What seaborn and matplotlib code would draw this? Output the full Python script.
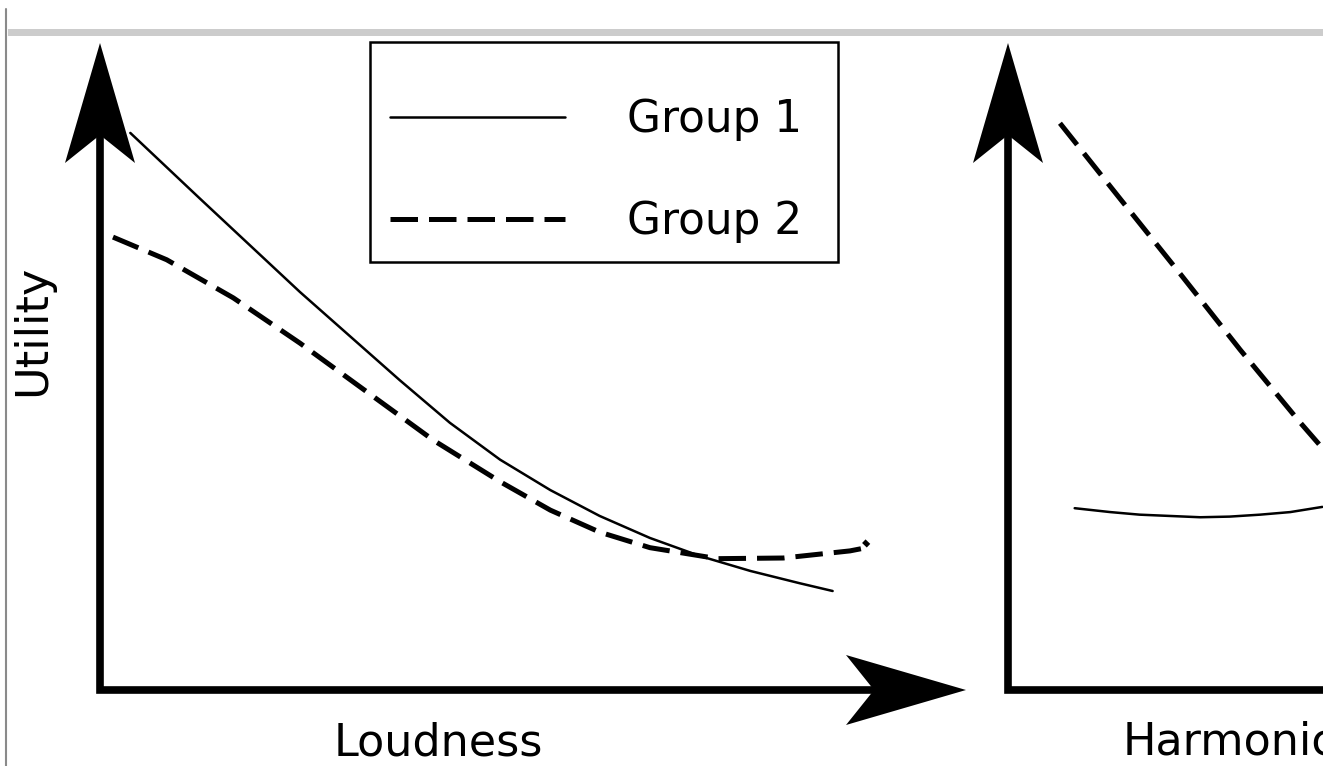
import numpy as np
import matplotlib
matplotlib.use("Agg")
import matplotlib.pyplot as plt
from matplotlib.patches import Polygon, Rectangle
from matplotlib.lines import Line2D
from matplotlib.transforms import IdentityTransform
import seaborn as sns

loud_x_g1 = [3.5, 11.5, 23.1, 34.6, 40.4, 46.2, 52.0, 57.7, 63.5, 69.3, 75.1, 80.8, 84.6]
loud_y_g1 = [86.1, 76.0, 61.5, 47.9, 41.3, 35.6, 30.9, 26.9, 23.5, 20.7, 18.4, 16.5, 15.3]
loud_x_g2 = [1.5, 7.7, 15.4, 23.1, 30.8, 38.5, 46.2, 52.0, 57.7, 63.5, 71.3, 78.9, 86.6, 88.9, 88.2]
loud_y_g2 = [70.0, 66.5, 60.6, 53.6, 46.1, 38.6, 32.2, 27.8, 24.4, 22.0, 20.3, 20.4, 21.5, 22.1, 23.0]

harm_x_g1 = [7.7, 11.8, 15.2, 18.7, 22.2, 25.6, 29.1, 32.6, 36.3]
harm_y_g1 = [28.1, 27.5, 27.1, 26.9, 26.7, 26.8, 27.1, 27.5, 28.3]
harm_x_g2 = [6.0, 12.9, 19.9, 26.8, 33.7, 36.3]
harm_y_g2 = [87.6, 76.0, 64.3, 52.6, 41.4, 37.4]

group_labels = ["Group 1", "Group 2"]
x_labels = ["Loudness", "Harmonicity"]
y_label = "Utility"

sns.set_style("white")
plt.rcParams["font.family"] = ["DejaVu Sans"]
plt.rcParams["text.color"] = "black"
plt.rcParams["axes.labelcolor"] = "black"

W, H = 1323, 766
fig = plt.figure(figsize=(W / 100, H / 100), dpi=100)

# bordure grise (capture d'écran d'origine)
fig.add_artist(Rectangle((8 / W, 1 - 36 / H), 1, 7 / H, color="#cccccc", lw=0))
fig.add_artist(Line2D([6 / W, 6 / W], [0, 1 - 9 / H], color="#8a8a8a", lw=1.5))

ax_w, ax_h = 866, 647
ax1 = fig.add_axes([100 / W, (H - 690) / H, ax_w / W, ax_h / H])
ax2 = fig.add_axes([1008 / W, (H - 690) / H, ax_w / W, ax_h / H])

solid_lw = 1.8
dash_lw = 3.6
dash_style = (0, (5.5, 2.2))


def arrow_head(ax, tip, direction, length=120, width=70, notch=28):
    tx, ty = ax.transAxes.transform(tip)
    dx, dy = direction
    px, py = -dy, dx
    pts = [(tx, ty),
           (tx - dx * length + px * width / 2, ty - dy * length + py * width / 2),
           (tx - dx * (length - notch), ty - dy * (length - notch)),
           (tx - dx * length - px * width / 2, ty - dy * length - py * width / 2)]
    fig.add_artist(Polygon(pts, closed=True, color="black", lw=0,
                           transform=IdentityTransform()))


sns.lineplot(x=loud_x_g1, y=loud_y_g1, ax=ax1, color="black", linewidth=solid_lw,
             label=group_labels[0], sort=False, solid_joinstyle="round")
sns.lineplot(x=loud_x_g2, y=loud_y_g2, ax=ax1, color="black", linewidth=dash_lw,
             linestyle=dash_style, label=group_labels[1], sort=False,
             dash_joinstyle="round")
sns.lineplot(x=harm_x_g1, y=harm_y_g1, ax=ax2, color="black", linewidth=solid_lw,
             legend=False, solid_joinstyle="round")
sns.lineplot(x=harm_x_g2, y=harm_y_g2, ax=ax2, color="black", linewidth=dash_lw,
             linestyle=dash_style, legend=False)

for ax in [ax1, ax2]:
    ax.set_xlim(0, 100)
    ax.set_ylim(0, 100)
    ax.set_facecolor("none")
    ax.set_xticks([])
    ax.set_yticks([])
    sns.despine(ax=ax, left=True, bottom=True)
    # axes avec flèches
    ax.plot([0, 0, 1 - 92 / ax_w], [1 - 92 / ax_h, 0, 0], color="black", lw=5.5,
            transform=ax.transAxes, clip_on=False, solid_joinstyle="miter")
    arrow_head(ax, (0, 1), (0, 1))
    arrow_head(ax, (1, 0), (1, 0))

ax1.set_xlabel(x_labels[0], fontsize=32, visible=True)
ax1.xaxis.set_label_coords(0.391, -0.048)
ax1.set_ylabel(y_label, fontsize=32, visible=True)
ax1.yaxis.set_label_coords(-0.053, 0.556)
ax2.set_xlabel(x_labels[1], fontsize=32, ha="left", visible=True)
ax2.xaxis.set_label_coords(0.132, -0.048)
ax2.set_ylabel("")

# légende : contenu placé sans cadre, cadre dessiné à part (marges inégales)
handles, labels = ax1.get_legend_handles_labels()
leg = ax1.legend(handles, labels, loc="upper left",
                 bbox_to_anchor=(390 / W, 1 - 98 / H), bbox_transform=fig.transFigure,
                 borderaxespad=0, fontsize=31.5, handlelength=4.0, handletextpad=1.42,
                 labelspacing=1.35, borderpad=0, frameon=False)
for t in leg.get_texts():
    t.set_color("black")
fig.add_artist(Rectangle((370 / W, 1 - 262 / H), 468 / W, 220 / H, fill=False,
                         edgecolor="black", lw=1.8))

fig.savefig("out.png", dpi=100)
